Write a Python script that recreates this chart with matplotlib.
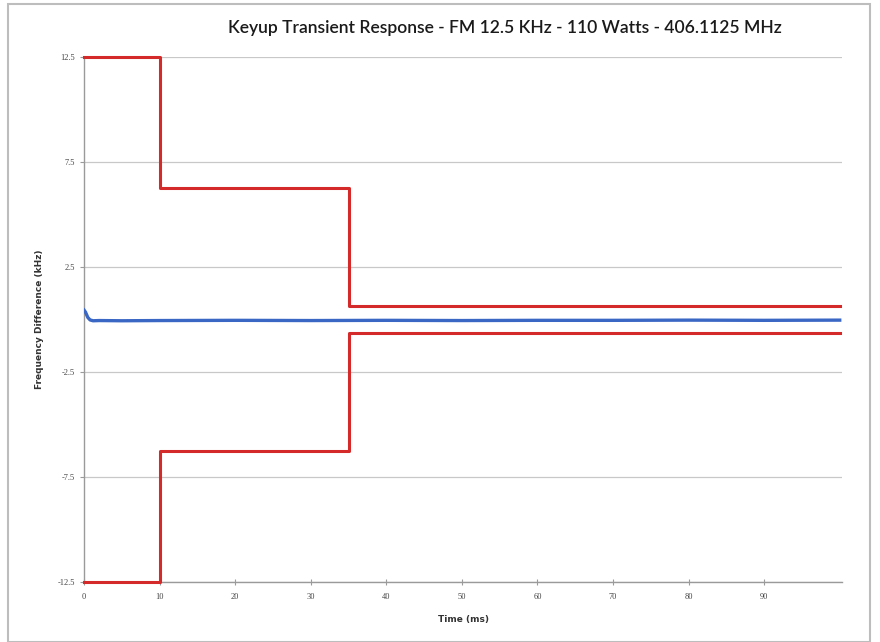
import matplotlib
matplotlib.use("Agg")
import matplotlib.pyplot as plt
from matplotlib.patches import Rectangle

# Data
upper_x = [0, 10, 10, 35, 35, 100]
upper_y = [12.5, 12.5, 6.25, 6.25, 0.65, 0.65]
lower_x = [0, 10, 10, 35, 35, 100]
lower_y = [-12.5, -12.5, -6.25, -6.25, -0.65, -0.65]
blue_x = [0, 0.2, 0.5, 0.8, 1.2, 2, 5, 10, 20, 30, 40, 50, 60, 70, 80, 90, 100]
blue_y = [0.45, 0.35, 0.1, -0.02, -0.06, -0.05, -0.06, -0.05, -0.04, -0.05, -0.04, -0.05, -0.04, -0.04, -0.03, -0.04, -0.03]
x_ticks = [0, 10, 20, 30, 40, 50, 60, 70, 80, 90]
y_ticks = [12.5, 7.5, 2.5, -2.5, -7.5, -12.5]
y_ticklabels = ["12.5", "7.5", "2.5", "-2.5", "-7.5", "-12.5"]

fig = plt.figure(figsize=(8.8, 6.42), dpi=100)
fig.patches.append(Rectangle((8/880, 0.0), 862/880, 1 - 4/642, transform=fig.transFigure,
                             fill=False, edgecolor="#bdbdbd", linewidth=1.5))
ax = fig.add_axes([84/880, 1 - 582/642, (842 - 84)/880, (582 - 57)/642])

ax.plot(blue_x, blue_y, color="#3a66c4", linewidth=2.4, zorder=3)
ax.plot(upper_x, upper_y, color="#d42a2a", linewidth=2.2, zorder=4, clip_on=False)
ax.plot(lower_x, lower_y, color="#d42a2a", linewidth=2.2, zorder=4, clip_on=False)

ax.set_xlim(0, 100.3)
ax.set_ylim(-12.5, 12.5)
ax.set_xticks(x_ticks)
ax.set_yticks(y_ticks)
ax.set_yticklabels(y_ticklabels)
ax.grid(axis="y", color="#c8c8c8", linewidth=0.9)
ax.set_axisbelow(True)
for s in ["top", "right"]:
    ax.spines[s].set_visible(False)
for s in ["left", "bottom"]:
    ax.spines[s].set_color("#9a9a9a")
    ax.spines[s].set_linewidth(1.0)
    ax.spines[s].set_zorder(2)
ax.tick_params(axis="both", labelsize=6, colors="#9a9a9a", labelcolor="#444444", length=3)
ax.tick_params(axis="x", direction="inout", length=4, pad=6)
for lab in ax.get_xticklabels() + ax.get_yticklabels():
    lab.set_family("Liberation Serif")

ax.set_xlabel("Time (ms)", fontsize=6.5, fontweight="bold", color="#333333", labelpad=10)
ax.set_ylabel("Frequency Difference (kHz)", fontsize=6.5, fontweight="bold", color="#333333", labelpad=10)
fig.text(505/880, 1 - 28/642, "Keyup Transient Response - FM 12.5 KHz - 110 Watts - 406.1125 MHz",
         ha="center", va="center", fontsize=12.6, family=["Lato", "DejaVu Sans"],
         fontweight="semibold", color="#1a1a1a")

fig.savefig("out.png", dpi=100)
